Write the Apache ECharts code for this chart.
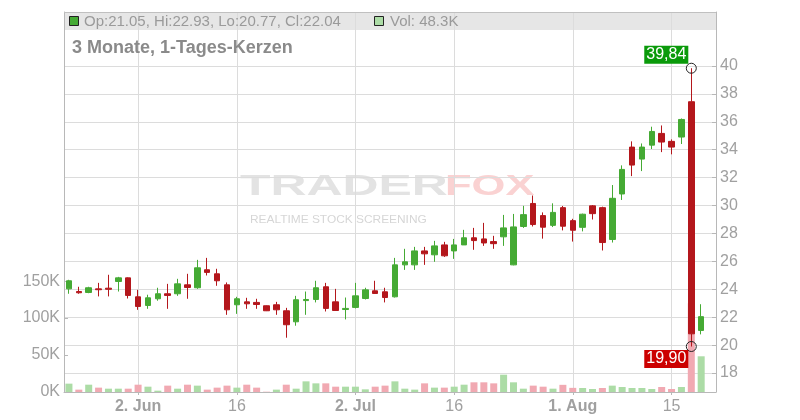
<!DOCTYPE html>
<html><head><meta charset="utf-8">
<script src="https://cdn.jsdelivr.net/npm/echarts@6/dist/echarts.min.js"></script>
<style>html,body{margin:0;padding:0;background:#fff}#c{width:800px;height:420px}</style>
</head><body><div id="c"></div>
<script>
// ---- data ----
const dates = ['2025-05-22','2025-05-23','2025-05-26','2025-05-27','2025-05-28','2025-05-29','2025-05-30',
'2025-06-02','2025-06-03','2025-06-04','2025-06-05','2025-06-06','2025-06-09','2025-06-10','2025-06-11','2025-06-12','2025-06-13',
'2025-06-16','2025-06-17','2025-06-18','2025-06-19','2025-06-20','2025-06-23','2025-06-24','2025-06-25','2025-06-26','2025-06-27',
'2025-06-30','2025-07-01','2025-07-02','2025-07-03','2025-07-04','2025-07-07','2025-07-08','2025-07-09','2025-07-10','2025-07-11',
'2025-07-14','2025-07-15','2025-07-16','2025-07-17','2025-07-18','2025-07-21','2025-07-22','2025-07-23','2025-07-24','2025-07-25',
'2025-07-28','2025-07-29','2025-07-30','2025-07-31','2025-08-01','2025-08-04','2025-08-05','2025-08-06','2025-08-07','2025-08-08',
'2025-08-11','2025-08-12','2025-08-13','2025-08-14','2025-08-15','2025-08-18','2025-08-19','2025-08-20'];
const opens = [24.03,23.84,23.77,24.03,24.08,24.56,24.82,23.46,22.84,23.32,23.68,23.68,24.32,24.11,25.40,25.11,24.32,22.89,23.10,23.06,22.82,22.89,22.46,21.67,23.19,
23.27,24.18,23.10,22.55,22.70,23.34,23.89,23.82,23.46,25.75,25.75,26.75,26.47,27.18,26.75,27.18,27.69,27.61,27.42,27.76,25.75,28.50,30.15,29.28,28.58,
29.85,28.92,28.44,29.98,29.85,27.57,30.83,34.19,33.33,34.33,35.17,34.60,34.91,37.44,21.05];
const highs = [24.68,24.18,24.18,24.46,25.04,24.89,24.85,23.96,23.61,24.11,24.39,24.75,25.11,26.11,26.25,25.47,24.49,23.46,23.39,23.32,22.84,23.10,22.67,23.53,23.84,
24.61,24.46,24.03,23.41,24.46,24.11,24.61,24.11,26.25,26.90,27.04,27.04,27.47,27.40,27.61,28.26,28.40,28.76,27.83,29.33,29.40,29.98,30.72,29.51,30.16,
29.97,29.05,29.42,30.04,29.92,31.47,32.88,34.60,34.45,35.65,35.74,34.74,36.24,39.84,22.93];
const lows = [23.68,23.68,23.72,23.49,23.49,23.84,23.34,22.53,22.60,23.18,22.60,23.53,23.32,24.03,24.99,24.25,22.17,22.24,22.60,22.60,22.44,22.17,20.53,21.39,22.17,
23.06,22.41,22.46,21.84,22.63,23.27,23.68,23.06,23.41,25.39,25.39,25.75,25.97,26.32,26.18,27.18,26.83,27.11,26.90,27.11,25.72,28.40,28.50,27.63,28.46,
28.22,27.42,28.15,29.00,26.78,27.35,30.40,32.11,32.47,34.05,33.83,33.67,34.41,19.90,20.77];
const closes = [24.61,23.75,24.11,23.97,24.00,24.82,23.56,22.77,23.39,23.68,23.56,24.39,24.13,25.54,25.21,24.61,22.53,23.32,22.96,22.91,22.46,22.53,21.46,23.25,23.27,
24.11,22.63,22.48,22.63,23.53,23.96,23.70,23.41,25.75,25.97,26.75,26.54,27.11,26.40,27.18,27.69,27.49,27.32,27.27,28.40,28.47,29.35,28.64,28.45,29.51,
28.52,28.23,29.38,29.42,27.35,30.52,32.59,32.90,34.19,35.31,34.55,34.19,36.17,20.81,22.04];
// volume in thousands
const volumes = [11.3,3.2,9.9,5.9,4.5,4.5,4.5,9.9,7.2,1.8,8.6,4.5,9.9,8.6,3.2,5.9,8.6,5.9,9.9,5.9,0.4,3.2,9.9,4.5,14.4,
11.7,11.7,7.2,7.2,7.2,3.6,7.2,8.6,14.4,4.5,3.2,11.7,5.9,5.9,7.2,9.9,13.1,13.1,11.7,23.4,13.1,4.5,8.6,7.2,4.5,
9.7,5.6,5.4,4.1,5.4,8.6,6.8,5.4,5.4,4.1,6.8,4.1,6.8,120,48.3];
const xTickLabels = {'2025-06-02':'2. Jun','2025-06-16':'16','2025-07-02':'2. Jul','2025-07-16':'16','2025-08-01':'1. Aug','2025-08-15':'15'};
const monthLabels = ['2. Jun','2. Jul','1. Aug'];
const priceTicks = [18,20,22,24,26,28,30,32,34,36,38,40];
const volumeTicks = [0,50,100,150];
const highMark = {date:'2025-08-19', value:39.84, text:'39,84'};
const lowMark = {date:'2025-08-19', value:19.90, text:'19,90'};
const titleText = '3 Monate, 1-Tages-Kerzen';
const legendOHLC = 'Op:21.05, Hi:22.93, Lo:20.77, Cl:22.04';
const legendVol = 'Vol: 48.3K';

// ---- chart ----
const UP = '#45aa34', DOWN = '#b4171c', VUP = '#acdca6', VDOWN = '#f1a9b2';
const cats = dates.concat(['']);
const showTick = (idx, val) => xTickLabels[val] !== undefined;
const font = 'Liberation Sans, Arial, sans-serif';
const chart = echarts.init(document.getElementById('c'), null, {renderer:'canvas'});
chart.setOption({
  animation:false,
  backgroundColor:'#fff',
  grid:{left:64, right:84, top:12, bottom:28, containLabel:false},
  xAxis:{type:'category', data:cats, boundaryGap:true,
    axisLine:{show:true, lineStyle:{color:'#b8b8b8'}},
    axisTick:{show:true, interval:showTick, alignWithLabel:true, length:3, lineStyle:{color:'#b8b8b8'}},
    axisLabel:{interval:showTick, margin:7, color:'#a0a0a0', fontSize:16, fontFamily:font,
      formatter:v=>{const t=xTickLabels[v]; return monthLabels.includes(t)?'{b|'+t+'}':t;},
      rich:{b:{fontWeight:'bold', fontSize:16, color:'#a0a0a0', fontFamily:font}}},
    splitLine:{show:true, interval:showTick, alignWithLabel:true, lineStyle:{color:'#dcdcdc'}}
  },
  yAxis:[
    {type:'value', position:'left', min:0, max:514, 
      axisLine:{show:true, lineStyle:{color:'#b8b8b8'}},
      axisTick:{show:true, inside:true, length:4, customValues:volumeTicks, lineStyle:{color:'#b8b8b8'}},
      axisLabel:{customValues:volumeTicks, formatter:v=>v+'K', color:'#a0a0a0', fontSize:16, fontFamily:font, margin:4},
      splitLine:{show:false}},
    {type:'value', position:'right', min:16.64, max:43.87,
      axisLine:{show:true, lineStyle:{color:'#b8b8b8'}},
      axisTick:{show:true, inside:true, length:4, customValues:priceTicks, lineStyle:{color:'#b8b8b8'}},
      axisLabel:{customValues:priceTicks, color:'#a0a0a0', fontSize:16, fontFamily:font, margin:4},
      splitLine:{show:true, lineStyle:{color:'#dcdcdc'}}}
  ],
  graphic:[
    {type:'rect', z:-10, shape:{x:64, y:12, width:652, height:18}, style:{fill:'#e6e6e6'}},
    {type:'line', z:5, shape:{x1:64, y1:12.5, x2:716, y2:12.5}, style:{stroke:'#c0c0c0', lineWidth:1}},
    {type:'text', z:-5, x:240, y:187, scaleX:1.72, style:{text:'TRADER', fontSize:29, fontWeight:'bold', fontFamily:font, fill:'#e3e3e3', verticalAlign:'middle'}},
    {type:'text', z:-5, x:445, y:187, scaleX:1.5, style:{text:'FOX', fontSize:29, fontWeight:'bold', fontFamily:font, fill:'#fad2d2', verticalAlign:'middle'}},
    {type:'text', z:-5, x:250, y:220, scaleX:1.19, style:{text:'REALTIME STOCK SCREENING', fontSize:10, fontFamily:font, fill:'#d6d6d6', verticalAlign:'middle'}},
    {type:'rect', z:10, shape:{x:69.5, y:16.5, width:9, height:9}, style:{fill:UP, stroke:'#222', lineWidth:1}},
    {type:'text', z:10, x:84, y:21.5, style:{text:legendOHLC, fontSize:15, fontFamily:font, fill:'#9a9a9a', verticalAlign:'middle'}},
    {type:'rect', z:10, shape:{x:374.5, y:16.5, width:9, height:9}, style:{fill:VUP, stroke:'#222', lineWidth:1}},
    {type:'text', z:10, x:390, y:21.5, style:{text:legendVol, fontSize:15, fontFamily:font, fill:'#9a9a9a', verticalAlign:'middle'}},
    {type:'text', z:10, x:72, y:48, style:{text:titleText, fontSize:18, fontWeight:'bold', fontFamily:font, fill:'#8a8a8a', verticalAlign:'middle'}}
  ],
  series:[
    {type:'bar', xAxisIndex:0, yAxisIndex:0, barWidth:7, silent:true, z:1,
      data:volumes.map((v,i)=>({value:v, itemStyle:{color:(i===0||closes[i]>=closes[i-1])?VUP:VDOWN}}))},
    {type:'candlestick', xAxisIndex:0, yAxisIndex:1, barWidth:6, z:3,
      data:dates.map((d,i)=>[opens[i], closes[i], lows[i], highs[i]]),
      itemStyle:{color:UP, color0:DOWN, borderColor:UP, borderColor0:DOWN, borderWidth:1},
      markPoint:{symbol:'circle', symbolSize:10, silent:true,
        itemStyle:{color:'rgba(255,255,255,0)', borderColor:'#222', borderWidth:1},
        label:{show:true, color:'#fff', fontSize:16, fontFamily:font, padding:[1,2], formatter:p=>p.data.text},
        data:[
          {coord:[highMark.date, highMark.value], text:highMark.text,
            label:{position:[2.5,1], align:'right', verticalAlign:'bottom', backgroundColor:'#0a9a0a'}},
          {coord:[lowMark.date, lowMark.value], text:lowMark.text,
            label:{position:[2.5,9], align:'right', verticalAlign:'top', backgroundColor:'#cc0000'}}
        ]}}
  ]
});
</script></body></html>
